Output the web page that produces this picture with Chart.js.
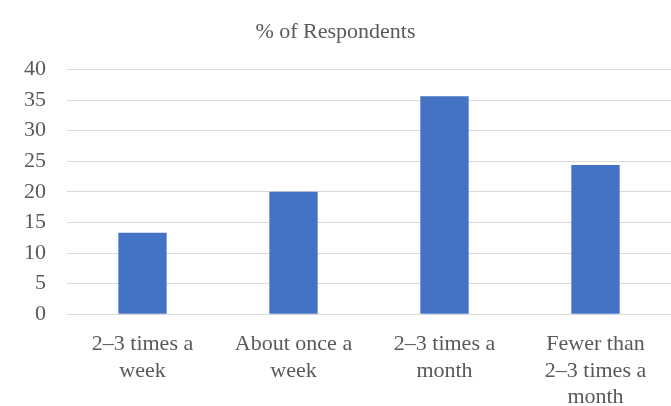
<!DOCTYPE html>
<html>
<head>
<meta charset="utf-8">
<script src="https://cdn.jsdelivr.net/npm/chart.js@4/dist/chart.umd.min.js"></script>
<style>
  html, body { margin: 0; padding: 0; background: #ffffff; }
  #wrap { width: 671px; height: 406px; position: relative; }
</style>
</head>
<body>
<div id="wrap"><canvas id="c" width="671" height="406"></canvas></div>
<script>
const chartTitle = "% of Respondents";
const categories = [
  ["2–3 times a", "week"],
  ["About once a", "week"],
  ["2–3 times a", "month"],
  ["Fewer than", "2–3 times a", "month"]
];
const values = [13.3, 20.0, 35.6, 24.4];
const yTicks = [0, 5, 10, 15, 20, 25, 30, 35, 40];

const FONT = "'Liberation Serif', 'Times New Roman', serif";
const TEXT = "#595959";
const GRID = "#d9d9d9";

new Chart(document.getElementById('c'), {
  type: 'bar',
  data: {
    labels: categories,
    datasets: [{
      label: chartTitle,
      data: values,
      backgroundColor: '#4472C4',
      borderWidth: 0,
      categoryPercentage: 1.0,
      barPercentage: 0.32
    }]
  },
  options: {
    responsive: false,
    animation: false,
    layout: { padding: { left: 0, right: 0, top: 0, bottom: 0 } },
    plugins: {
      legend: { display: false },
      tooltip: { enabled: false },
      title: {
        display: true,
        text: chartTitle,
        color: TEXT,
        font: { family: FONT, size: 22, weight: 'normal' },
        padding: { top: 19, bottom: 24 }
      }
    },
    scales: {
      x: {
        grid: { display: false, drawTicks: false },
        border: { display: true, color: GRID, width: 1 },
        ticks: {
          color: TEXT,
          font: { family: FONT, size: 22 },
          maxRotation: 0,
          autoSkip: false,
          padding: 17
        },
        afterFit: (s) => { s.height = 91.7; }
      },
      y: {
        min: 0,
        max: 40,
        afterBuildTicks: (s) => { s.ticks = yTicks.map(v => ({ value: v })); },
        grid: { color: GRID, lineWidth: 1, drawTicks: false },
        border: { display: false },
        ticks: {
          color: TEXT,
          font: { family: FONT, size: 22 },
          padding: 21
        },
        afterFit: (s) => { s.width = 67; }
      }
    }
  }
});
</script>
</body>
</html>
